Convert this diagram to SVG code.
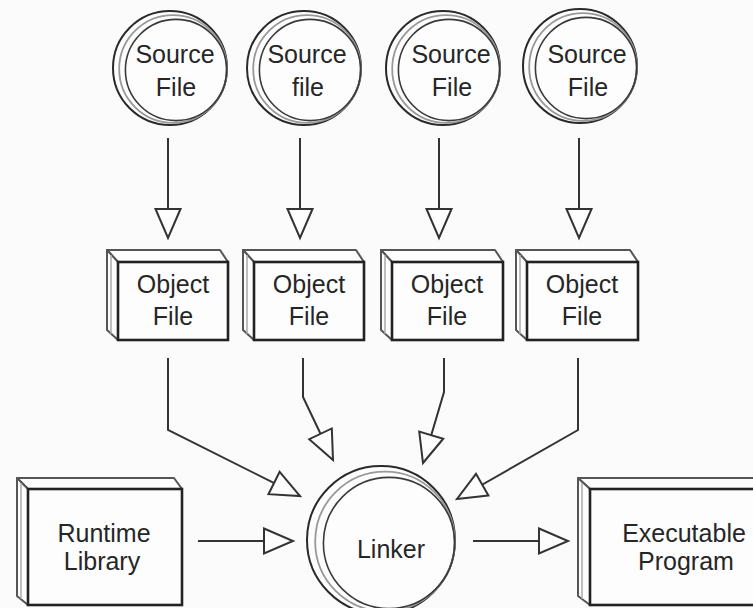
<svg xmlns="http://www.w3.org/2000/svg" width="753" height="608" viewBox="0 0 753 608">
<defs>
<style>
.bg{fill:#fbfbfb}
.c-out{fill:#fdfdfd;stroke:#2a2a2a;stroke-width:2}
.c-mid{fill:none;stroke:#999;stroke-width:1.8}
.c-in{fill:none;stroke:#3a3a3a;stroke-width:1.6}
.face{fill:#fdfdfd;stroke:#555;stroke-width:2;stroke-linejoin:round}
.sideline{fill:none;stroke:#aaa;stroke-width:1.5}
.front{fill:#fdfdfd;stroke:#222;stroke-width:2.6}
.lbl{font-family:"Liberation Sans",Arial,sans-serif;font-size:25px;fill:#262626;text-anchor:middle}
.conn{fill:none;stroke:#333;stroke-width:2}
</style>
<marker id="ah" markerUnits="userSpaceOnUse" markerWidth="34" markerHeight="30" viewBox="-2 -15 34 30" refX="29" refY="0" orient="auto">
<path d="M0,-12.5 L29,0 L0,12.5 Z" fill="#fdfdfd" stroke="#333" stroke-width="2" stroke-linejoin="miter"/>
</marker>
</defs>
<rect class="bg" x="0" y="0" width="753" height="608"/>

<g id="connectors">
<line class="conn" x1="168" y1="138" x2="168" y2="238" marker-end="url(#ah)"/>
<line class="conn" x1="300" y1="138" x2="300" y2="238" marker-end="url(#ah)"/>
<line class="conn" x1="439" y1="138" x2="439" y2="238" marker-end="url(#ah)"/>
<line class="conn" x1="579" y1="138" x2="579" y2="238" marker-end="url(#ah)"/>
<polyline class="conn" points="168,358 168,430 300,496" marker-end="url(#ah)"/>
<polyline class="conn" points="303,358 303,397 333,460" marker-end="url(#ah)"/>
<polyline class="conn" points="444,358 444,392 423,463" marker-end="url(#ah)"/>
<polyline class="conn" points="578,358 578,430 457,499" marker-end="url(#ah)"/>
<line class="conn" x1="198" y1="541" x2="293" y2="541" marker-end="url(#ah)"/>
<line class="conn" x1="473" y1="541" x2="568" y2="541" marker-end="url(#ah)"/>
</g>

<g id="source1">
<circle class="c-out" cx="170" cy="68" r="57"/>
<circle class="c-mid" cx="173" cy="69" r="53.8"/>
<circle class="c-in" cx="176" cy="70" r="50.6"/>
<text class="lbl" x="175" y="63">Source</text>
<text class="lbl" x="176" y="96">File</text>
</g>
<g id="source2">
<circle class="c-out" cx="304" cy="68" r="57"/>
<circle class="c-mid" cx="307" cy="69" r="53.8"/>
<circle class="c-in" cx="310" cy="70" r="50.6"/>
<text class="lbl" x="307" y="63">Source</text>
<text class="lbl" x="308" y="96">file</text>
</g>
<g id="source3">
<circle class="c-out" cx="443" cy="68" r="57"/>
<circle class="c-mid" cx="446" cy="69" r="53.8"/>
<circle class="c-in" cx="449" cy="70" r="50.6"/>
<text class="lbl" x="451" y="63">Source</text>
<text class="lbl" x="452" y="96">File</text>
</g>
<g id="source4">
<circle class="c-out" cx="580" cy="66" r="57"/>
<circle class="c-mid" cx="583" cy="67" r="53.8"/>
<circle class="c-in" cx="586" cy="68" r="50.6"/>
<text class="lbl" x="587" y="63">Source</text>
<text class="lbl" x="588" y="96">File</text>
</g>

<g id="object1">
<polygon class="face" points="107,250 220,250 228,262 118,262"/>
<polygon class="face" points="107,250 118,262 118,340 107,330"/>
<line class="sideline" x1="111" y1="255" x2="111" y2="334"/>
<rect class="front" x="118" y="262" width="110" height="78"/>
<text class="lbl" x="173" y="293">Object</text>
<text class="lbl" x="173" y="325">File</text>
</g>
<g id="object2">
<polygon class="face" points="243,250 356,250 364,262 254,262"/>
<polygon class="face" points="243,250 254,262 254,340 243,330"/>
<line class="sideline" x1="247" y1="255" x2="247" y2="334"/>
<rect class="front" x="254" y="262" width="110" height="78"/>
<text class="lbl" x="309" y="293">Object</text>
<text class="lbl" x="309" y="325">File</text>
</g>
<g id="object3">
<polygon class="face" points="381,250 495,250 503,262 392,262"/>
<polygon class="face" points="381,250 392,262 392,340 381,330"/>
<line class="sideline" x1="385" y1="255" x2="385" y2="334"/>
<rect class="front" x="392" y="262" width="111" height="78"/>
<text class="lbl" x="447" y="293">Object</text>
<text class="lbl" x="447" y="325">File</text>
</g>
<g id="object4">
<polygon class="face" points="516,250 630,250 638,262 527,262"/>
<polygon class="face" points="516,250 527,262 527,340 516,330"/>
<line class="sideline" x1="520" y1="255" x2="520" y2="334"/>
<rect class="front" x="527" y="262" width="111" height="78"/>
<text class="lbl" x="582" y="293">Object</text>
<text class="lbl" x="582" y="325">File</text>
</g>

<g id="runtime">
<polygon class="face" points="17,478 174,478 182,489 28,489"/>
<polygon class="face" points="17,478 28,489 28,605 17,596"/>
<line class="sideline" x1="21" y1="483" x2="21" y2="599"/>
<rect class="front" x="28" y="489" width="154" height="116"/>
<text class="lbl" x="104" y="542">Runtime</text>
<text class="lbl" x="102" y="570">Library</text>
</g>

<g id="linker">
<circle class="c-out" cx="381" cy="540" r="74"/>
<circle class="c-mid" cx="385" cy="541.5" r="69.8"/>
<circle class="c-in" cx="389" cy="543" r="65.6"/>
<text class="lbl" x="391" y="558">Linker</text>
</g>

<g id="executable">
<polygon class="face" points="578,478 800,478 808,489 590,489"/>
<polygon class="face" points="578,478 590,489 590,605 578,596"/>
<line class="sideline" x1="582" y1="483" x2="582" y2="599"/>
<rect class="front" x="590" y="489" width="220" height="116"/>
<text class="lbl" x="684" y="542">Executable</text>
<text class="lbl" x="686" y="570">Program</text>
</g>
</svg>
